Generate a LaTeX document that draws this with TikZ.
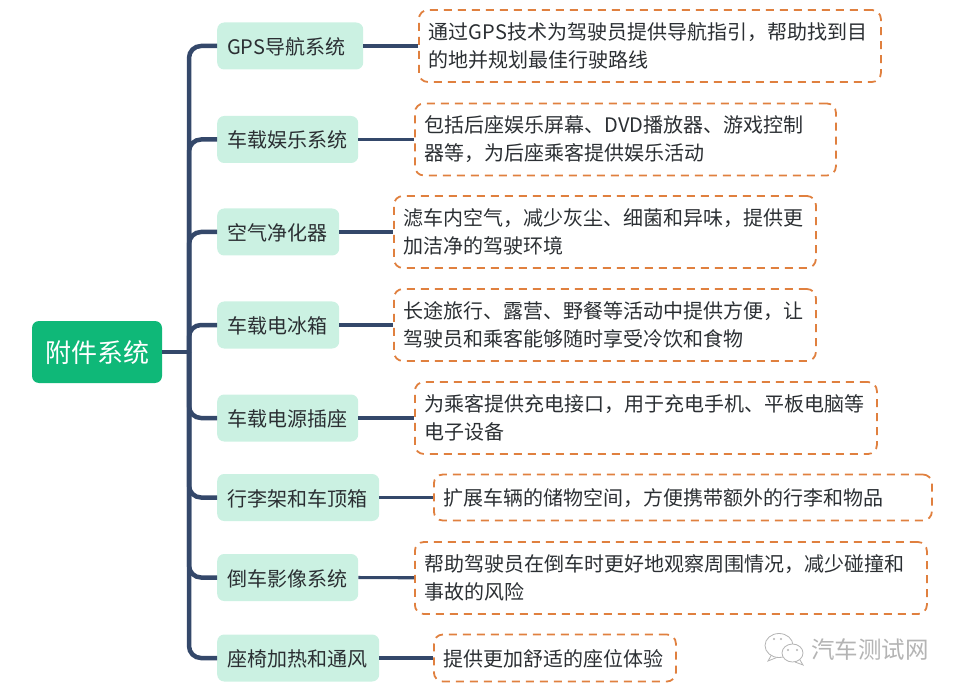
\documentclass[tikz,border=0pt]{standalone}
\usepackage{fontspec}
\setmainfont{Noto Sans CJK SC}
\usetikzlibrary{arrows}
\definecolor{rootgreen}{HTML}{0FB878}
\definecolor{topicgreen}{HTML}{CBF1E2}
\definecolor{linkblue}{HTML}{34486A}
\definecolor{dashorange}{HTML}{E0803F}
\definecolor{darktext}{HTML}{2B2F33}
\definecolor{markgray}{HTML}{B4B4B4}

\begin{document}
\begin{tikzpicture}[
  x=1pt,
  y=-1pt,
  root/.style={fill=rootgreen,text=white,rounded corners=7pt,text width=110pt,align=center,inner xsep=10pt,inner ysep=0,minimum height=62pt,text height=23pt,text depth=3pt,font=\fontsize{26}{30}\selectfont},
  topic/.style={fill=topicgreen,text=darktext,rounded corners=7pt,minimum height=47pt,inner xsep=10pt,inner ysep=0,text height=18.5pt,text depth=1.5pt,anchor=west,align=left,font=\fontsize{20}{26}\selectfont},
  info/.style={draw=dashorange,line width=1.8pt,dash pattern=on 8pt off 6pt,rounded corners=9pt,text=darktext,anchor=west,align=left,inner xsep=10pt,inner ysep=0,font=\fontsize{20}{26}\selectfont},
  twolines/.style={info,minimum height=72pt,execute at begin node={\vspace*{2pt}}},
  oneline/.style={info,text height=18pt,text depth=2pt},
  branch/.style={draw=linkblue,line width=4.5pt,rounded corners=12pt},
  twig/.style={draw=linkblue,line width=3.2pt},
  bubble/.style={draw=markgray,line width=0.8pt,fill=white},
  eye/.style={fill=markgray}
  ]
  \useasboundingbox (0, 0) rectangle (960, 692);

  \node [root] (system) at (97, 352) {附件系统};
  \coordinate (trunk) at (189, 352);

  \node [topic, text width=126pt] (gps) at (217, 46) {GPS导航系统};
  \node [topic, text width=121pt] (media) at (217, 139.5) {车载娱乐系统};
  \node [topic, text width=102pt] (air) at (217, 232) {空气净化器};
  \node [topic, text width=102pt] (fridge) at (217, 325) {车载电冰箱};
  \node [topic, text width=121pt] (socket) at (217, 418) {车载电源插座};
  \node [topic, text width=142pt] (rack) at (217, 497.5) {行李架和车顶箱};
  \node [topic, text width=121pt] (camera) at (217, 577.5) {倒车影像系统};
  \node [topic, text width=142pt] (seat) at (217, 658) {座椅加热和通风};

  \node [twolines, text width=442pt] (gpsinfo) at (418, 46) {通过GPS技术为驾驶员提供导航指引，帮助找到目\\的地并规划最佳行驶路线};
  \node [twolines, text width=401pt] (mediainfo) at (414, 139.5) {包括后座娱乐屏幕、DVD播放器、游戏控制\\器等，为后座乘客提供娱乐活动};
  \node [twolines, text width=402pt] (airinfo) at (393, 232) {滤车内空气，减少灰尘、细菌和异味，提供更\\加洁净的驾驶环境};
  \node [twolines, text width=402pt] (fridgeinfo) at (393, 325) {长途旅行、露营、野餐等活动中提供方便，让\\驾驶员和乘客能够随时享受冷饮和食物};
  \node [twolines, text width=442pt] (socketinfo) at (414, 418) {为乘客提供充电接口，用于充电手机、平板电脑等\\电子设备};
  \node [oneline, text width=478pt, minimum height=46pt] (rackinfo) at (433, 497.5) {扩展车辆的储物空间，方便携带额外的行李和物品};
  \node [twolines, text width=492pt] (camerainfo) at (414, 578) {帮助驾驶员在倒车时更好地观察周围情况，减少碰撞和\\事故的风险};
  \node [oneline, text width=222pt, minimum height=47pt] (seatinfo) at (433, 658) {提供更加舒适的座位体验};

  \draw [twig] (system) -- (trunk);
  \draw [branch] (trunk) |- (gps);
  \draw [branch] (trunk) |- (media);
  \draw [branch] (trunk) |- (air);
  \draw [branch] (trunk) |- (fridge);
  \draw [branch] (trunk) |- (socket);
  \draw [branch] (trunk) |- (rack);
  \draw [branch] (trunk) |- (camera);
  \draw [branch] (trunk) |- (seat);

  \draw [twig] (gps) -- (gpsinfo);
  \draw [twig] (media) -- (mediainfo);
  \draw [twig] (air) -- (airinfo);
  \draw [twig] (fridge) -- (fridgeinfo);
  \draw [twig] (socket) -- (socketinfo);
  \draw [twig] (rack) -- (rackinfo);
  \draw [twig] (camera) -- (camerainfo);
  \draw [twig] (seat) -- (seatinfo);

  % watermark
  \draw [bubble] (772, 654) -- (768, 661) -- (778, 657);
  \draw [bubble] (779, 645.5) ellipse (14 and 12);
  \draw [bubble] (800, 660) -- (803, 665) -- (795, 662);
  \draw [bubble] (792.5, 653) ellipse (10.5 and 9);
  \fill [eye] (774, 639) circle (1.2);
  \fill [eye] (781, 639) circle (1.2);
  \fill [eye] (788, 650) circle (1.2);
  \fill [eye] (797, 650) circle (1.2);
  \node [text=markgray, inner sep=0, font=\fontsize{23.5}{26}\selectfont] (mark) at (870, 650) {汽车测试网};
\end{tikzpicture}
\end{document}
